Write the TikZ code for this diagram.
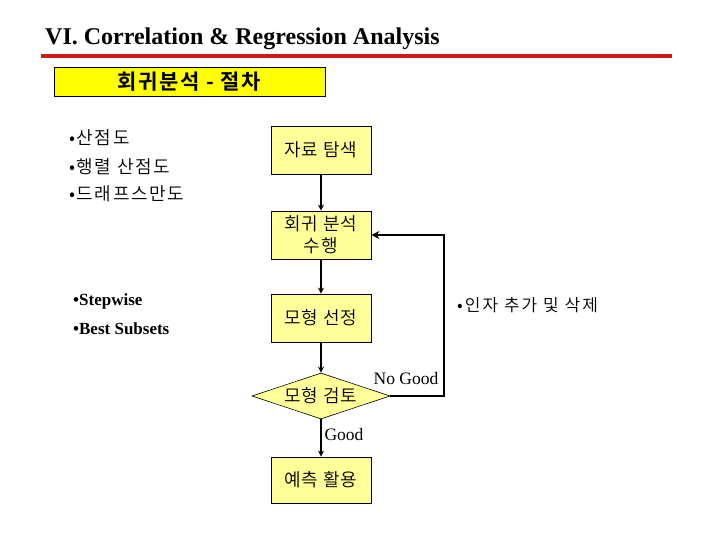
\documentclass[tikz,border=0pt]{standalone}
\usepackage{fontspec}
\setmainfont{Liberation Serif}
\newfontfamily\kr{Noto Sans CJK KR DemiLight}[LetterSpace=5]
\newfontfamily\krl{Noto Sans CJK KR DemiLight}[LetterSpace=9]
\newfontfamily\krr{Noto Sans CJK KR DemiLight}[LetterSpace=12]
\newfontfamily\krb{Noto Sans CJK KR Bold}[LetterSpace=8]
\usetikzlibrary{shapes.geometric,arrows.meta}
\definecolor{boxyellow}{HTML}{FFFF99}
\definecolor{hdryellow}{HTML}{FFFF00}
\definecolor{titlered}{HTML}{CC1A1A}
\tikzset{
  x=1pt, y=-1pt,
  flowbox/.style={draw=black, line width=0.8pt, fill=boxyellow, minimum width=100pt, minimum height=48pt, inner sep=0pt, align=center, font=\kr\fontsize{18}{22}\selectfont},
  flowdia/.style={draw=black, line width=0.6pt, fill=boxyellow, shape=diamond, aspect=3, minimum width=138pt, minimum height=46pt, inner sep=0pt, font=\kr\fontsize{18}{22}\selectfont},
  flowarrow/.style={line width=2pt, -{Stealth[length=6pt,width=6pt]}},
  backarrow/.style={line width=1.5pt, -{Stealth[length=8pt,width=8pt]}},
  krnote/.style={anchor=west, inner sep=0pt, font=\krr\fontsize{17}{20}\selectfont},
  ennote/.style={anchor=west, inner sep=0pt, font=\bfseries\fontsize{17}{20}\selectfont},
  lbl/.style={inner sep=0pt, font=\fontsize{17.5}{20}\selectfont}
}
\begin{document}
\begin{tikzpicture}
\useasboundingbox (0,0) rectangle (720,540);
\node[anchor=base west, inner sep=0pt, font=\bfseries\fontsize{24}{28}\selectfont] (title) at (45,45) {VI. Correlation \& Regression Analysis};
\draw[titlered, line width=3.5pt] (41,56) -- (672,56);
\node[draw=black, line width=0.8pt, fill=hdryellow, minimum width=271pt, minimum height=29pt, inner sep=0pt, font=\krb\fontsize{21}{22}\selectfont] (hdr) at (189.5,81.5) {회귀분석 - 절차};

\node[flowbox] (b1) at (321,150) {자료 탐색};
\node[flowbox] (b2) at (321,235) {회귀 분석\\수행};
\node[flowbox] (b3) at (321,318) {모형 선정};
\node[flowdia] (d) at (321,396) {모형 검토};
\node[flowbox, minimum height=46pt] (b4) at (321,480) {예측 활용};

\draw[flowarrow] (b1.south) -- (b2.north);
\draw[flowarrow] (b2.south) -- (b3.north);
\draw[flowarrow] (b3.south) -- (d.north);
\draw[flowarrow] (d.south) -- (b4.north);
\coordinate (fbc) at (444,396);
\draw[backarrow] (d.east) -- (fbc) |- (b2.east);

\node[lbl] (ng) at (406,379) {No Good};
\node[lbl] (g) at (344,435) {Good};

\node[krnote, font=\krl\fontsize{18}{20}\selectfont] (n1) at (69,138) {•산점도};
\node[krnote, font=\krl\fontsize{18}{20}\selectfont] (n2) at (69,167) {•행렬 산점도};
\node[krnote, font=\krl\fontsize{18}{20}\selectfont] (n3) at (69,194) {•드래프스만도};
\node[krnote] (n4) at (457,305) {•인자 추가 및 삭제};
\node[ennote] (s1) at (73,301) {•Stepwise};
\node[ennote] (s2) at (73,329) {•Best Subsets};
\end{tikzpicture}
\end{document}
